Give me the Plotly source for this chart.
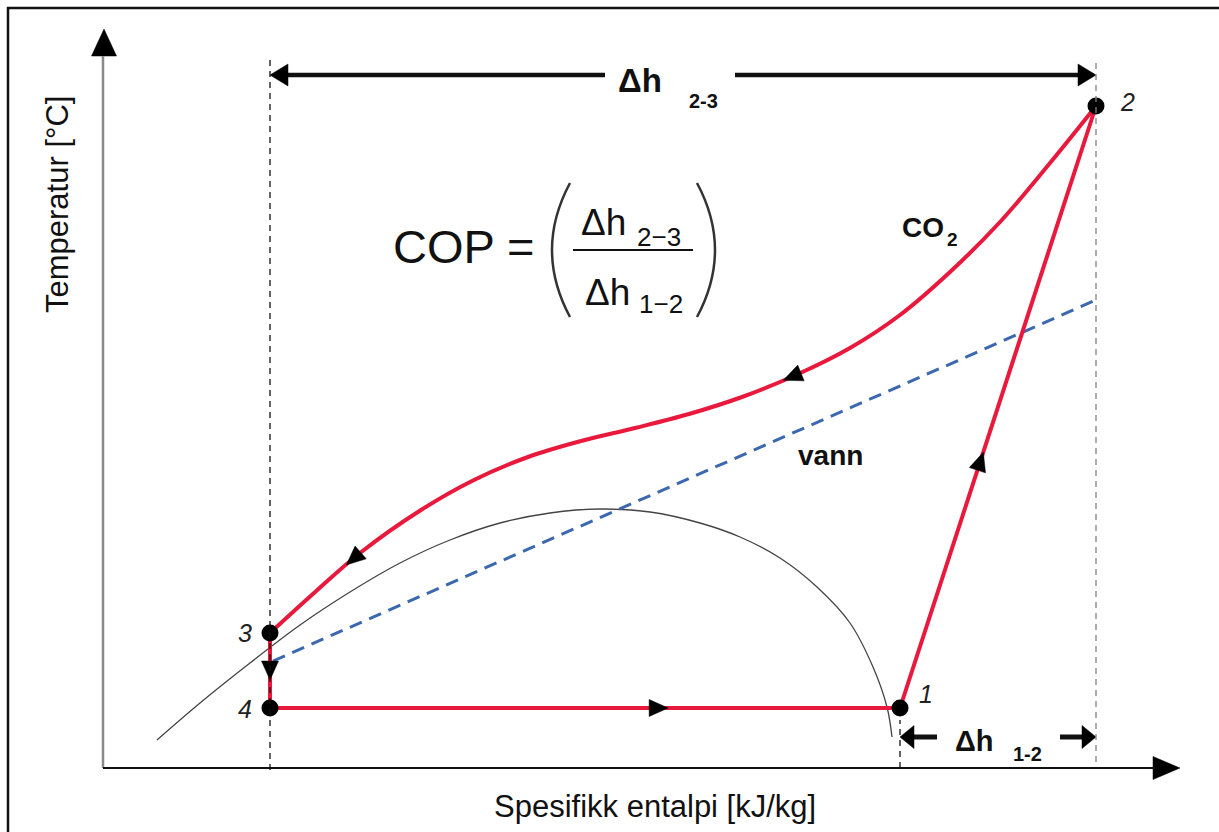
import numpy as np
import plotly.graph_objects as go

# ---------------- data (schematic units: h = spesifikk entalpi, T = temperatur) ----------------
point_labels = ["1", "2", "3", "4"]
point_h = [797, 993, 167, 167]
point_T = [60, 662, 135, 60]

# CO2 gas-cooler curve, from point 2 to point 3
co2_h = [993, 947, 897, 847, 797, 747, 693, 639, 586, 532, 478, 425, 371, 318, 257, 211, 167]
co2_T = [662, 605, 546, 496, 453, 420, 393, 371, 354, 340, 327, 311, 288, 258, 215, 175, 135]

# saturation dome (thin grey curve)
dome_h = [54, 97, 147, 197, 247, 297, 347, 397, 447, 497, 547, 597, 637, 677, 714, 747, 770, 784, 789]
dome_T = [28, 65, 105, 143, 176, 205, 228, 245, 255, 259, 256, 245, 231, 210, 181, 145, 101, 61, 31]

# water ("vann") line
water_h = [170, 993]
water_T = [107, 468]

x_title = "Spesifikk entalpi [kJ/kg]"
y_title = "Temperatur [°C]"

# ---------------- styling ----------------
RED = "#E8193C"
BLUE = "#3B68AE"
FONT = "Liberation Sans, Arial, sans-serif"
X_RANGE = [-103, 1116]   # 1 unit = 1 px
Y_RANGE = [-64, 768]

h1, h2, h3, h4 = point_h
T1, T2, T3, T4 = point_T

fig = go.Figure()


def line(xs, ys, color, width, dash=None, shape="linear", smoothing=None):
    fig.add_trace(go.Scatter(x=xs, y=ys, mode="lines",
                             line=dict(color=color, width=width, dash=dash, shape=shape,
                                       smoothing=smoothing),
                             hoverinfo="skip", showlegend=False))


def point_along(xs, ys, f):
    xs = np.asarray(xs, float); ys = np.asarray(ys, float)
    seg = np.hypot(np.diff(xs), np.diff(ys))
    cum = np.concatenate([[0], np.cumsum(seg)])
    s = f * cum[-1]
    i = min(np.searchsorted(cum, s) - 1, len(seg) - 1)
    i = max(i, 0)
    t = (s - cum[i]) / seg[i]
    px = xs[i] + t * (xs[i + 1] - xs[i]); py = ys[i] + t * (ys[i + 1] - ys[i])
    d = np.array([xs[i + 1] - xs[i], ys[i + 1] - ys[i]]) / seg[i]
    return px, py, d


heads_x, heads_y = [], []


def head(tx, ty, d, length, width):
    d = np.asarray(d, float); d = d / np.hypot(*d)
    n = np.array([-d[1], d[0]])
    b = np.array([tx, ty]) - length * d
    p1 = b + n * width / 2; p2 = b - n * width / 2
    heads_x.extend([tx, p1[0], p2[0], tx, None])
    heads_y.extend([ty, p1[1], p2[1], ty, None])


# saturation dome and water line
line(dome_h, dome_T, "#444444", 1.3, shape="spline", smoothing=1.0)
line(water_h, water_T, BLUE, 3, dash="13px,8px")

# cycle
paths = {
    "comp": ([h1, h2], [T1, T2]),
    "cool": (co2_h, co2_T),
    "exp": ([h3, h4], [T3, T4]),
    "evap": ([h4, h1], [T4, T1]),
}
line(*paths["comp"], RED, 4)
line(*paths["cool"], RED, 4, shape="spline", smoothing=1.0)
line(*paths["exp"], RED, 4)
line(*paths["evap"], RED, 4)

# flow direction arrows
for key, f in [("comp", 0.425), ("cool", 0.42), ("cool", 0.898), ("exp", 0.627), ("evap", 0.632)]:
    px, py, d = point_along(*paths[key], f)
    head(px, py, d, 19, 17)

# axes
AX_H, AX_T = 0, 0
fig.add_shape(type="line", x0=AX_H, y0=AX_T, x1=AX_H, y1=712, line=dict(color="#8a8a8a", width=2.5))
fig.add_shape(type="line", x0=AX_H, y0=AX_T, x1=1052, y1=AX_T, line=dict(color="#111", width=2))
head(AX_H + 1, 739, (0, 1), 27, 25)
head(1077, AX_T, (1, 0), 27, 23)

# dashed guide lines
fig.add_shape(type="line", x0=h3, x1=h3, y0=-2, y1=710, line=dict(color="#111", width=1.3, dash="6px,5px"))
fig.add_shape(type="line", x0=h2, x1=h2, y0=6, y1=710, line=dict(color="#808080", width=1.3, dash="6px,5px"))
fig.add_shape(type="line", x0=h1, x1=h1, y0=0, y1=48, line=dict(color="#111", width=1.3, dash="6px,5px"))

# dimension arrows
DIM23_T, DIM12_T = 693, 31
line([h3 + 8, 502], [DIM23_T, DIM23_T], "#111", 4.5)
line([632, h2 - 8], [DIM23_T, DIM23_T], "#111", 4.5)
head(h3, DIM23_T, (-1, 0), 18, 22)
head(h2, DIM23_T, (1, 0), 18, 22)
line([h1 + 6, 834], [DIM12_T, DIM12_T], "#111", 5)
line([957, h2 - 6], [DIM12_T, DIM12_T], "#111", 5)
head(h1, DIM12_T, (-1, 0), 14, 23)
head(h2, DIM12_T, (1, 0), 14, 23)

fig.add_trace(go.Scatter(x=heads_x, y=heads_y, mode="lines", fill="toself", fillcolor="#000",
                         line=dict(color="#000", width=0.5), hoverinfo="skip", showlegend=False))

# state points
fig.add_trace(go.Scatter(x=point_h, y=point_T, mode="markers",
                         marker=dict(color="#000", size=17, line=dict(width=0)),
                         hoverinfo="skip", showlegend=False))


def text(x, y, s, size, bold=False, italic=False, angle=0, color="#111", xanchor="center"):
    if bold:
        s = f"<b>{s}</b>"
    if italic:
        s = f"<i>{s}</i>"
    fig.add_annotation(x=x, y=y, text=s, showarrow=False, textangle=angle, xanchor=xanchor,
                       yanchor="middle", font=dict(family=FONT, size=size, color=color))


label_off = [(26, 14), (31, 4), (-25, 0), (-25, -1)]
for lab, hh, tt, (dx, dy) in zip(point_labels, point_h, point_T, label_off):
    text(hh + dx, tt + dy, lab, 25, italic=True, color="#222")

text(-46, 563, y_title, 31, angle=-90)
text(552, -38, x_title, 31)

text(820, 541, "CO", 28, bold=True)
text(849, 529, "2", 19, bold=True)
text(727, 313, "vann", 28, bold=True)

text(537, 688, "Δh", 33, bold=True)
text(600, 667, "2-3", 20, bold=True)
text(871, 27, "Δh", 29, bold=True)
text(924, 14, "1-2", 20, bold=True)

# COP formula
text(288, 522, "COP =", 47, xanchor="left")
text(500, 546, "Δh", 37)
text(556, 531, "2−3", 26)
text(504, 476, "Δh", 37)
text(558, 464, "1−2", 26)
fig.add_shape(type="line", x0=470, x1=590, y0=518, y1=518, line=dict(color="#111", width=2))
fig.add_shape(type="path", path="M 467,585 Q 431,518 467,451", line=dict(color="#333", width=2.5))
fig.add_shape(type="path", path="M 594,585 Q 630,518 594,451", line=dict(color="#333", width=2.5))

# outer frame
fig.add_shape(type="rect", xref="paper", yref="paper", x0=8 / 1219, y0=-0.02, x1=1.02, y1=1 - 8 / 832,
              line=dict(color="#111", width=2.5))

fig.update_layout(
    width=1219, height=832, margin=dict(l=0, r=0, t=0, b=0),
    paper_bgcolor="white", plot_bgcolor="white",
    xaxis=dict(range=X_RANGE, visible=False, fixedrange=True),
    yaxis=dict(range=Y_RANGE, visible=False, fixedrange=True),
    showlegend=False,
)

fig.write_html("out.html")
